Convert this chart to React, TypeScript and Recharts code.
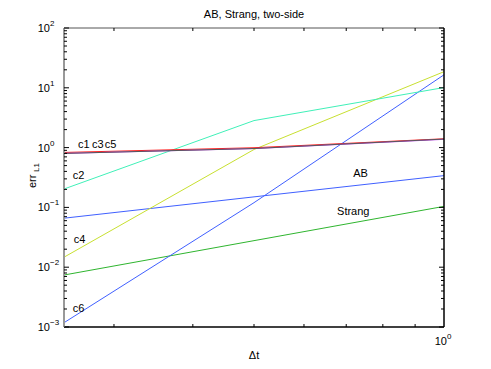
import React from 'react';
import { LineChart, Line, XAxis, YAxis, ReferenceDot } from 'recharts';

const dt = [0.25, 0.5, 1];
const c1 = [0.83, 0.995, 1.405];
const c3 = [0.8, 0.965, 1.39];
const c5 = [0.8, 0.962, 1.375];
const c2 = [0.203, 2.83, 10.1];
const c4 = [0.0147, 0.93, 18.6];
const c6 = [0.00118, 0.12, 16.5];
const ab = [0.066, 0.15, 0.34];
const strang = [0.0074, 0.0278, 0.104];

const xTicks = [0.3, 0.4, 0.5, 0.6, 0.7, 0.8, 0.9, 1];
const yDecades = [0.001, 0.01, 0.1, 1, 10, 100];
const yMinorMult = [2, 3, 4, 5, 6, 7, 8, 9];

const annotations = [
  { text: 'c1', x: 0.263, y: 0.985 },
  { text: 'c3', x: 0.277, y: 0.985 },
  { text: 'c5', x: 0.29, y: 0.985 },
  { text: 'c2', x: 0.258, y: 0.299 },
  { text: 'c4', x: 0.259, y: 0.0254 },
  { text: 'c6', x: 0.258, y: 0.00178 },
  { text: 'AB', x: 0.718, y: 0.322 },
  { text: 'Strang', x: 0.677, y: 0.0746 },
];

const yTicks: number[] = [];
yDecades.forEach((d, i) => {
  yTicks.push(d);
  if (i < yDecades.length - 1) yMinorMult.forEach((m) => yTicks.push(+(d * m).toPrecision(3)));
});

const rows = dt.map((d, i) => ({
  dt: d, c1: c1[i], c3: c3[i], c5: c5[i], c2: c2[i], c4: c4[i], c6: c6[i], ab: ab[i], strang: strang[i],
}));

const FONT = 'Liberation Sans, Arial, sans-serif';

const isDecade = (v: number) => Math.abs(Math.log10(v) - Math.round(Math.log10(v))) < 1e-6;
const expStr = (v: number) => {
  const e = Math.round(Math.log10(v));
  return e < 0 ? '\u2212' + Math.abs(e) : String(e);
};

const LeftTick = (props: any) => {
  const { x, y, payload } = props;
  const v = payload.value;
  const major = isDecade(v);
  return (
    <g>
      <line x1={x} x2={x + (major ? 5 : 3)} y1={y} y2={y} stroke="#000" strokeWidth={1} />
      {major && (
        <text x={x - 14} y={y + 4} fontFamily={FONT} fontSize={11} fill="#000" textAnchor="end">10</text>
      )}
      {major && (
        <text x={x - 14} y={y - 2} fontFamily={FONT} fontSize={8} fill="#000" textAnchor="start">{expStr(v)}</text>
      )}
    </g>
  );
};

const RightTick = (props: any) => {
  const { x, y, payload } = props;
  const major = isDecade(payload.value);
  return <line x1={x} x2={x - (major ? 5 : 3)} y1={y} y2={y} stroke="#000" strokeWidth={1} />;
};

const BottomTick = (props: any) => {
  const { x, y, payload } = props;
  const v = payload.value;
  return (
    <g>
      {v < 1 && <line x1={x} x2={x} y1={y} y2={y - 3} stroke="#000" strokeWidth={1} />}
      {v === 1 && (
        <>
          <text x={x + 3} y={y + 18} fontFamily={FONT} fontSize={11} fill="#000" textAnchor="end">10</text>
          <text x={x + 3} y={y + 12} fontFamily={FONT} fontSize={8} fill="#000" textAnchor="start">0</text>
        </>
      )}
    </g>
  );
};

const TopTick = (props: any) => {
  const { x, y, payload } = props;
  const v = payload.value;
  if (v >= 1) return <g />;
  return <line x1={x} x2={x} y1={y} y2={y + 3} stroke="#000" strokeWidth={1} />;
};

const series = [
  { key: 'strang', color: '#2fb52f' },
  { key: 'ab', color: '#4060ff' },
  { key: 'c6', color: '#4060ff' },
  { key: 'c4', color: '#c8e030' },
  { key: 'c2', color: '#40f0b8' },
  { key: 'c1', color: '#ff2020' },
  { key: 'c5', color: '#c040f0' },
  { key: 'c3', color: '#585858' },
];

export default function App() {
  return (
    <div style={{ position: 'absolute', left: 0, top: 0, width: 491, height: 369, background: '#fff' }}>
      <LineChart width={491} height={369} data={rows} margin={{ top: 0, right: 0, bottom: 0, left: 0 }}>
        <XAxis
          xAxisId="b"
          dataKey="dt"
          type="number"
          scale="log"
          domain={[0.25, 1]}
          allowDataOverflow
          ticks={xTicks}
          interval={0}
          height={42}
          tickSize={0}
          tickMargin={0}
          tickLine={false}
          tick={<BottomTick />}
          axisLine={{ stroke: '#000', strokeWidth: 1.5 }}
        />
        <XAxis
          xAxisId="t"
          orientation="top"
          dataKey="dt"
          type="number"
          scale="log"
          domain={[0.25, 1]}
          allowDataOverflow
          ticks={xTicks}
          interval={0}
          height={28}
          tickSize={0}
          tickMargin={0}
          tickLine={false}
          tick={<TopTick />}
          axisLine={{ stroke: '#555', strokeWidth: 1 }}
        />
        <YAxis
          yAxisId="l"
          type="number"
          scale="log"
          domain={[0.001, 100]}
          allowDataOverflow
          ticks={yTicks}
          interval={0}
          width={64}
          tickSize={0}
          tickMargin={0}
          tickLine={false}
          tick={<LeftTick />}
          axisLine={{ stroke: '#999', strokeWidth: 2 }}
        />
        <YAxis
          yAxisId="r"
          orientation="right"
          type="number"
          scale="log"
          domain={[0.001, 100]}
          allowDataOverflow
          ticks={yTicks}
          interval={0}
          width={47}
          tickSize={0}
          tickMargin={0}
          tickLine={false}
          tick={<RightTick />}
          axisLine={{ stroke: '#000', strokeWidth: 1.5 }}
        />
        {series.map((s) => (
          <Line
            key={s.key}
            xAxisId="b"
            yAxisId="l"
            dataKey={s.key}
            stroke={s.color}
            strokeWidth={1}
            dot={false}
            isAnimationActive={false}
            type="linear"
          />
        ))}
        {annotations.map((a) => (
          <ReferenceDot
            key={a.text}
            xAxisId="b"
            yAxisId="l"
            x={a.x}
            y={a.y}
            r={1}
            ifOverflow="visible"
            shape={(p: any) => (
              <text x={p.cx} y={p.cy} fontFamily={FONT} fontSize={11} fill="#000">{a.text}</text>
            )}
          />
        ))}
      </LineChart>
      <svg width={491} height={369} style={{ position: 'absolute', left: 0, top: 0, pointerEvents: 'none' }}>
        <text x={254} y={18} textAnchor="middle" fontFamily={FONT} fontSize={11} fill="#000">AB, Strang, two-side</text>
        <text x={254} y={359} textAnchor="middle" fontFamily={FONT} fontSize={11} fill="#000">Δt</text>
        <g transform="rotate(-90 36 188)">
          <text x={36} y={188} fontFamily={FONT} fontSize={11} fill="#000">err</text>
          <text x={52} y={191} fontFamily={FONT} fontSize={8} fill="#000">L1</text>
        </g>
      </svg>
    </div>
  );
}
